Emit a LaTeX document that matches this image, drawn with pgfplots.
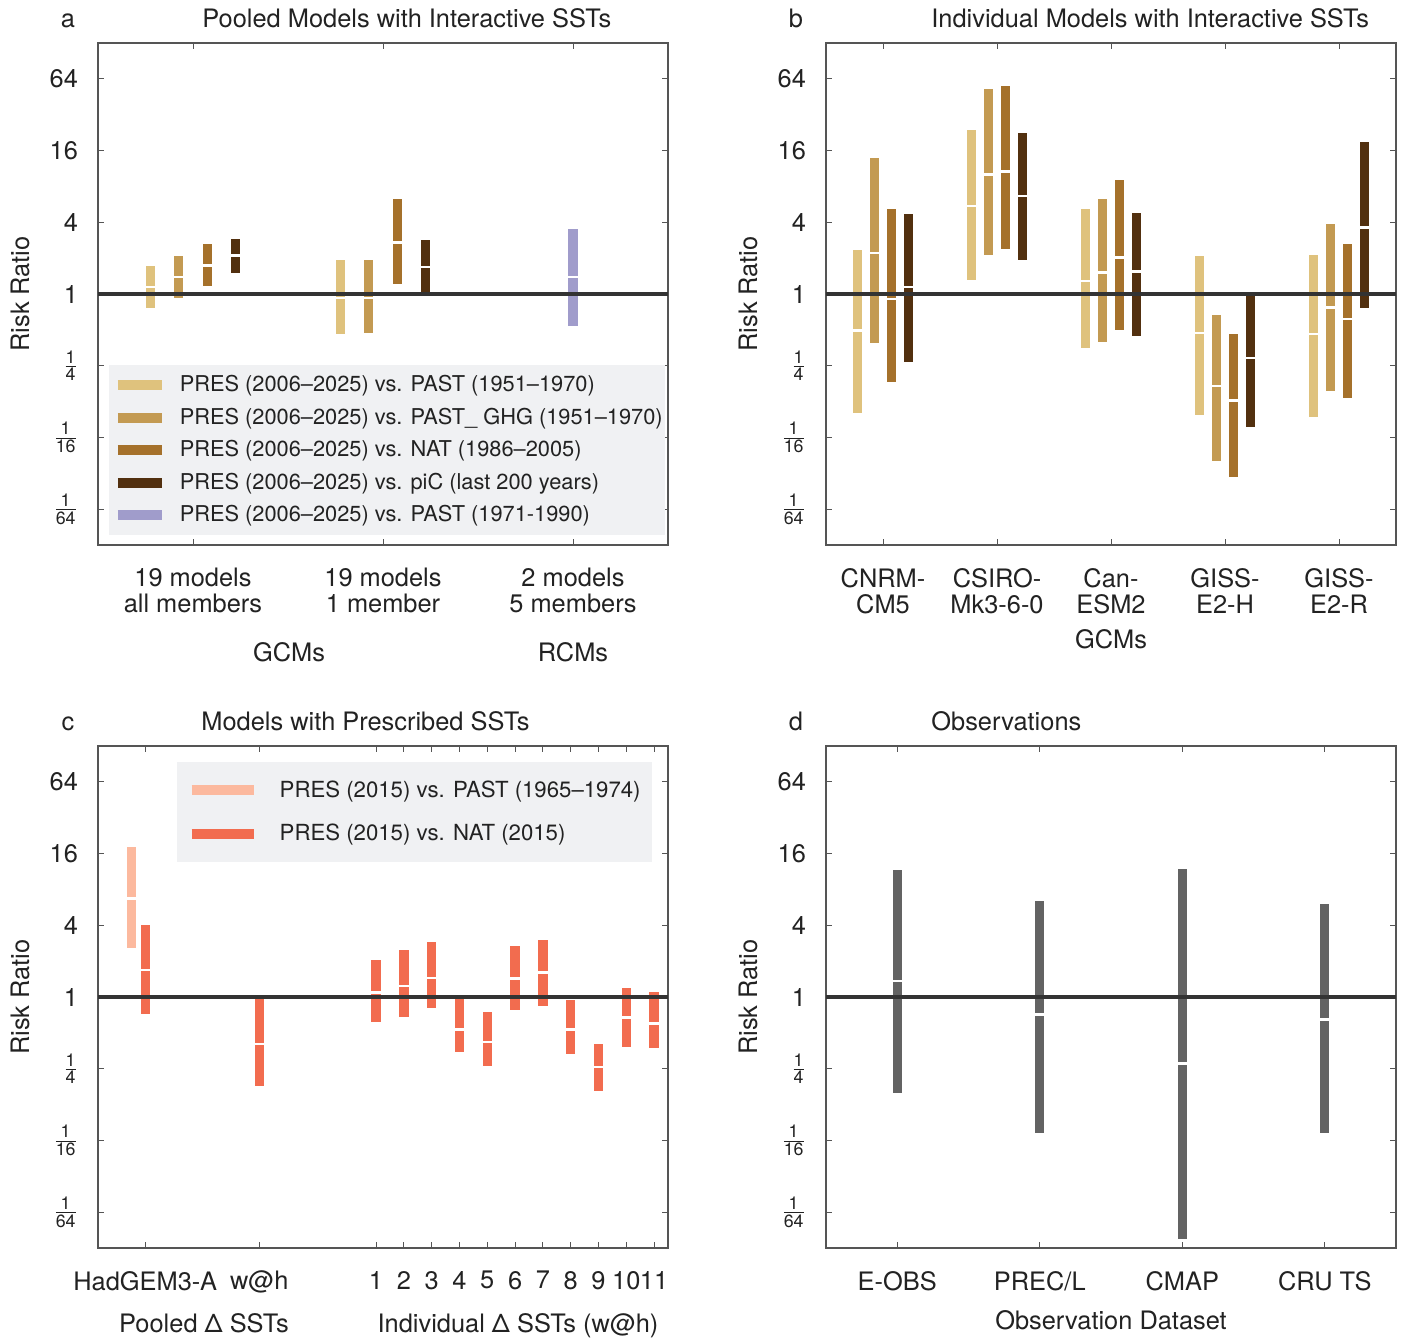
\documentclass[border=0pt]{standalone}
\usepackage{fontspec}
\setmainfont{TeX Gyre Heros}
\usepackage{amsmath}
\usepackage{pgfplots}
\usepackage{pgfplotstable}
\pgfplotsset{compat=1.18}

\definecolor{cpast}{HTML}{DFC27D}
\definecolor{cghg}{HTML}{C39A52}
\definecolor{cnat}{HTML}{A5712B}
\definecolor{cpic}{HTML}{52300F}
\definecolor{cpur}{HTML}{A09CCB}
\definecolor{clight}{HTML}{FCB99E}
\definecolor{cdark}{HTML}{F26C4F}
\definecolor{cobs}{HTML}{636363}
\definecolor{axisgray}{HTML}{555555}
\definecolor{refline}{HTML}{333333}
\definecolor{legbg}{HTML}{F0F1F3}
\definecolor{txt}{HTML}{222222}

\newcommand\tfont{\fontsize{12.7}{13}\selectfont}
\newcommand\lfont{\fontsize{10.9}{13}\selectfont}
\newcommand\fr[1]{$\frac{\text{1}}{\text{#1}}$}

% values are log2(risk ratio): lo = 5%, med = median, hi = 95%
% panel a
\pgfplotstableread{
x     lo     med    hi
0.775 -0.39  0.19   0.77
1.775 -1.12 -0.11   0.95
}\aPast
\pgfplotstableread{
x     lo     med    hi
0.925 -0.12  0.47   1.07
1.925 -1.10 -0.11   0.95
}\aGhg
\pgfplotstableread{
x     lo     med    hi
1.075  0.22  0.80   1.39
2.075  0.29  1.44   2.64
}\aNat
\pgfplotstableread{
x     lo     med    hi
1.225  0.58  1.07   1.53
2.225 -0.04  0.75   1.52
}\aPic
\pgfplotstableread{
x     lo     med    hi
3.000 -0.89  0.47   1.81
}\aPur
% panel b
\pgfplotstableread{
x     lo     med    hi
0.775 -3.33 -1.01   1.22
1.775  0.40  2.45   4.57
2.775 -1.51  0.36   2.37
3.775 -3.38 -1.09   1.07
4.775 -3.43 -1.12   1.10
}\bPast
\pgfplotstableread{
x     lo     med    hi
0.925 -1.38  1.14   3.79
1.925  1.09  3.33   5.71
2.925 -1.34  0.60   2.64
3.925 -4.65 -2.56  -0.58
4.925 -2.70 -0.38   1.96
}\bGhg
\pgfplotstableread{
x     lo     med    hi
1.075 -2.45 -0.14   2.37
2.075  1.26  3.41   5.79
3.075 -1.01  1.02   3.17
4.075 -5.09 -2.97  -1.12
5.075 -2.90 -0.70   1.40
}\bNat
\pgfplotstableread{
x     lo     med    hi
1.225 -1.90  0.19   2.24
2.225  0.96  2.73   4.49
3.225 -1.16  0.62   2.26
4.225 -3.72 -1.79   0.00
5.225 -0.39  1.86   4.23
}\bPic
% panel c
\pgfplotstableread{
x     lo     med    hi
1.2    1.37  2.74   4.19
}\cPast
\pgfplotstableread{
x     lo     med    hi
1.7   -0.47  0.75   2.01
5.8   -2.48 -1.31   0.00
10    -0.70  0.13   1.04
11    -0.55  0.31   1.32
12    -0.31  0.53   1.54
13    -1.53 -0.90   0.03
14    -1.93 -1.25  -0.42
15    -0.36  0.51   1.43
16    -0.26  0.68   1.59
17    -1.60 -0.90  -0.07
18    -2.62 -1.95  -1.32
19    -1.38 -0.57   0.26
20    -1.42 -0.74   0.14
}\cNat
% panel d
\pgfplotstableread{
x     lo     med    hi
1     -2.68  0.45   3.53
2     -3.79 -0.48   2.67
3     -6.75 -1.85   3.57
4     -3.80 -0.62   2.59
}\dObs

% bar from lo to hi, white dash at the median
% #1 colour, #2 table, #3/#4 start/end of the legend swatch
\newcommand{\riskbars}[4]{%
  \addplot[only marks, mark=-, mark size=2.9pt,
    mark options={draw=white, line width=1.3pt},
    legend image code/.code={\path (0pt,0pt);
      \draw[line width=5pt, draw=#1] (#3,0pt) -- (#4,0pt);},
    error bars/.cd, y dir=both, y explicit, error mark=none,
    error bar style={line width=4.65pt, draw=#1}]
  table[x=x, y=med, y error plus expr=\thisrow{hi}-\thisrow{med},
        y error minus expr=\thisrow{med}-\thisrow{lo}] {#2};}

\tikzset{zeroline/.style={line width=1.7pt, draw=refline}}

\pgfplotsset{
  panel/.style={
    scale only axis, width=285pt, height=251pt, anchor=north west,
    font=\tfont,
    ymin=-7, ymax=7,
    ytick={-6,-4,-2,0,2,4,6},
    yticklabels={\fr{64},\fr{16},\fr{4},1,4,16,64},
    axis line style={draw=axisgray, line width=0.8pt},
    every tick/.style={draw=axisgray, line width=0.5pt},
    major tick length=3pt,
    tick align=inside,
    tick label style={font=\tfont, text=txt},
    yticklabel style={xshift=-6.5pt},
    xticklabel style={align=center, yshift=-8pt},
    clip=false,
  },
}

\begin{document}
\begin{tikzpicture}[font=\tfont, text=txt]
\path[use as bounding box] (0,0) rectangle (700.5pt,-668.5pt);

% a
\begin{axis}[panel, at={(49pt,-21.5pt)},
    xmin=0.5, xmax=3.5, xtick={1,2,3},
    xticklabels={19 models\\all members, 19 models\\1 member, 2 models\\5 members},
    legend cell align=left,
    legend style={at={(0.0193,0.0199)}, anchor=south west, draw=none, fill=legbg,
      font=\lfont, inner xsep=0.5pt, inner ysep=3pt, row sep=2.6pt,
      nodes={inner xsep=0.5pt},
      /tikz/every odd column/.append style={column sep=6pt}},
  ]
\riskbars{cpast}{\aPast}{3.5pt}{25.5pt}
\addlegendentry{PRES (2006--2025) vs. PAST (1951--1970)}
\riskbars{cghg}{\aGhg}{3.5pt}{25.5pt}
\addlegendentry{PRES (2006--2025) vs. PAST\_ GHG (1951--1970)}
\riskbars{cnat}{\aNat}{3.5pt}{25.5pt}
\addlegendentry{PRES (2006--2025) vs. NAT (1986--2005)}
\riskbars{cpic}{\aPic}{3.5pt}{25.5pt}
\addlegendentry{PRES (2006--2025) vs. piC (last 200 years)}
\riskbars{cpur}{\aPur}{3.5pt}{25.5pt}
\addlegendentry{PRES (2006--2025) vs. PAST (1971-1990)}
\draw[zeroline] (rel axis cs:0,0.5) -- (rel axis cs:1,0.5);
\end{axis}

% b
\begin{axis}[panel, at={(413pt,-21.5pt)},
    xmin=0.5, xmax=5.5, xtick={1,2,3,4,5},
    xticklabels={CNRM-\\CM5, CSIRO-\\Mk3-6-0, Can-\\ESM2, GISS-\\E2-H, GISS-\\E2-R},
  ]
\riskbars{cpast}{\bPast}{0pt}{22pt}
\riskbars{cghg}{\bGhg}{0pt}{22pt}
\riskbars{cnat}{\bNat}{0pt}{22pt}
\riskbars{cpic}{\bPic}{0pt}{22pt}
\draw[zeroline] (rel axis cs:0,0.5) -- (rel axis cs:1,0.5);
\end{axis}

% c
\begin{axis}[panel, at={(49pt,-373pt)},
    xmin=0, xmax=20.5, xtick={1.7,5.8,10,11,12,13,14,15,16,17,18,19,20},
    xticklabels={HadGEM3-A, w@h, 1,2,3,4,5,6,7,8,9,10,11},
    legend cell align=left,
    legend style={at={(0.972,0.968)}, anchor=north east, draw=none, fill=legbg,
      font=\fontsize{11.1}{13}\selectfont, inner xsep=5pt, inner ysep=7pt, row sep=8pt,
      nodes={inner xsep=0.5pt},
      /tikz/every odd column/.append style={column sep=10pt}},
  ]
\riskbars{clight}{\cPast}{1pt}{32pt}
\addlegendentry{PRES (2015) vs. PAST (1965--1974)}
\riskbars{cdark}{\cNat}{1pt}{32pt}
\addlegendentry{PRES (2015) vs. NAT (2015)}
\draw[zeroline] (rel axis cs:0,0.5) -- (rel axis cs:1,0.5);
\end{axis}

% d
\begin{axis}[panel, at={(413pt,-373pt)},
    xmin=0.5, xmax=4.5, xtick={1,2,3,4},
    xticklabels={E-OBS, PREC/L, CMAP, CRU TS},
  ]
\riskbars{cobs}{\dObs}{0pt}{22pt}
\draw[zeroline] (rel axis cs:0,0.5) -- (rel axis cs:1,0.5);
\end{axis}

% panel letters and titles
\node[anchor=base] at (34pt,-13.75pt) {a};
\node[anchor=base west, inner sep=0pt] at (101pt,-13.75pt) {Pooled Models with Interactive SSTs};
\node[anchor=base] at (398pt,-13.75pt) {b};
\node[anchor=base west, inner sep=0pt] at (465.5pt,-13.75pt) {Individual Models with Interactive SSTs};
\node[anchor=base] at (34pt,-365pt) {c};
\node[anchor=base west, inner sep=0pt] at (100.5pt,-365pt) {Models with Prescribed SSTs};
\node[anchor=base] at (398pt,-365pt) {d};
\node[anchor=base west, inner sep=0pt] at (465.5pt,-365pt) {Observations};

% y labels
\node[rotate=90, anchor=base] at (14.5pt,-147pt) {Risk Ratio};
\node[rotate=90, anchor=base] at (378.5pt,-147pt) {Risk Ratio};
\node[rotate=90, anchor=base] at (14.5pt,-498.5pt) {Risk Ratio};
\node[rotate=90, anchor=base] at (378.5pt,-498.5pt) {Risk Ratio};

% group labels
\node[anchor=base] at (144.5pt,-330.5pt) {GCMs};
\node[anchor=base] at (286.5pt,-330.5pt) {RCMs};
\node[anchor=base] at (555.5pt,-324pt) {GCMs};
\node[anchor=base] at (102pt,-666pt) {Pooled Δ SSTs};
\node[anchor=base] at (259pt,-666pt) {Individual Δ SSTs (w@h)};
\node[anchor=base] at (555.5pt,-664.5pt) {Observation Dataset};
\end{tikzpicture}
\end{document}
